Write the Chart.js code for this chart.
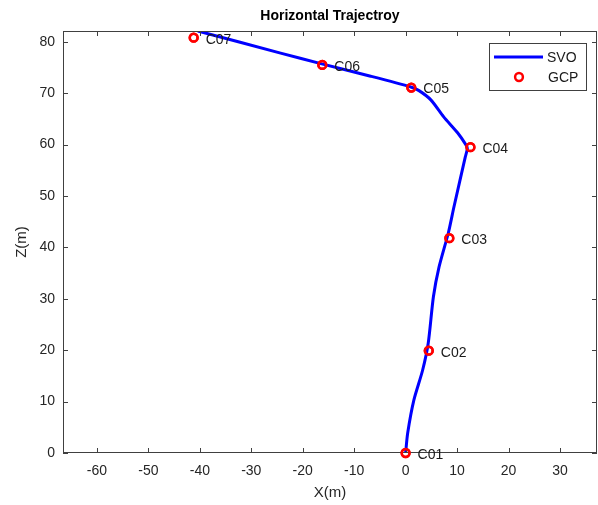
<!DOCTYPE html>
<html>
<head>
<meta charset="utf-8">
<script src="https://cdn.jsdelivr.net/npm/chart.js@4/dist/chart.umd.min.js"></script>
<style>
  html, body { margin: 0; padding: 0; background: #fff; }
  #wrap { width: 598px; height: 505px; }
</style>
</head>
<body>
<div id="wrap"><canvas id="chart" width="598" height="505"></canvas></div>
<script>
// ground control points
const gcpNames = ['C01', 'C02', 'C03', 'C04', 'C05', 'C06', 'C07'];
const gcpX = [0, 4.5, 8.5, 12.6, 1.1, -16.2, -41.2];
const gcpZ = [0, 19.9, 41.8, 59.5, 71.1, 75.5, 80.8];

// SVO trajectory
const svoX = [0, 0.4, 1.6, 3.3, 4.4, 5.4, 6.5, 8.3, 9.4, 11.6, 12.0, 11.7, 10.1, 7.4, 4.9, 2.6, 1.0, -6.8, -16.3, -24.3, -40.4];
const svoZ = [0, 3.9, 10.3, 16.1, 21.4, 30.4, 36.2, 42.8, 47.9, 57.6, 59.3, 60.0, 62.3, 65.4, 68.7, 70.5, 71.2, 73.3, 75.7, 77.8, 82.1];

const xTicks = [-60, -50, -40, -30, -20, -10, 0, 10, 20, 30];
const zTicks = [0, 10, 20, 30, 40, 50, 60, 70, 80];

const FONT = '"Liberation Sans", Arial, Helvetica, sans-serif';
const AXIS = '#404040';
const TEXT = '#262626';

// box, inward ticks, point labels and legend, matlab style
const matlabAxes = {
  id: 'matlabAxes',
  afterDatasetsDraw(chart) {
    const ctx = chart.ctx;
    const a = chart.chartArea;
    const xs = chart.scales.x, ys = chart.scales.y;
    const tl = 5;
    ctx.save();
    ctx.strokeStyle = AXIS;
    ctx.lineWidth = 1;
    ctx.strokeRect(Math.round(a.left) + 0.5, Math.round(a.top) + 0.5,
      Math.round(a.right - a.left) - 1, Math.round(a.bottom - a.top) - 1);
    ctx.beginPath();
    xTicks.forEach(v => {
      const px = Math.round(xs.getPixelForValue(v)) + 0.5;
      ctx.moveTo(px, a.bottom); ctx.lineTo(px, a.bottom - tl);
      ctx.moveTo(px, a.top); ctx.lineTo(px, a.top + tl);
    });
    zTicks.forEach(v => {
      const py = Math.round(ys.getPixelForValue(v)) + 0.5;
      ctx.moveTo(a.left, py); ctx.lineTo(a.left + tl, py);
      ctx.moveTo(a.right, py); ctx.lineTo(a.right - tl, py);
    });
    ctx.stroke();

    // markers on top of the frame (matlab does not clip them)
    const meta = chart.getDatasetMeta(0);
    ctx.strokeStyle = '#ff0000';
    ctx.lineWidth = 2.5;
    meta.data.forEach(pt => {
      ctx.beginPath();
      ctx.arc(pt.x, pt.y, 3.9, 0, Math.PI * 2);
      ctx.stroke();
    });

    // labels next to the GCP circles
    ctx.font = '14px ' + FONT;
    ctx.fillStyle = '#1a1a1a';
    ctx.textAlign = 'left';
    ctx.textBaseline = 'middle';
    meta.data.forEach((pt, i) => {
      ctx.fillText(gcpNames[i], pt.x + 12, pt.y + 2);
    });

    // legend box, upper right
    const lx = a.right - 108, ly = a.top + 12, lw = 97, lh = 47;
    ctx.fillStyle = '#fff';
    ctx.fillRect(lx, ly, lw, lh);
    ctx.strokeStyle = AXIS;
    ctx.lineWidth = 1;
    ctx.strokeRect(lx + 0.5, ly + 0.5, lw, lh);
    ctx.strokeStyle = '#0000ff';
    ctx.lineWidth = 3;
    ctx.beginPath();
    ctx.moveTo(lx + 5, ly + 14);
    ctx.lineTo(lx + 54, ly + 14);
    ctx.stroke();
    ctx.strokeStyle = '#ff0000';
    ctx.lineWidth = 2.5;
    ctx.beginPath();
    ctx.arc(lx + 30, ly + 34, 3.9, 0, Math.PI * 2);
    ctx.stroke();
    ctx.fillStyle = '#1a1a1a';
    ctx.fillText('SVO', lx + 58, ly + 15);
    ctx.fillText('GCP', lx + 59, ly + 35);
    ctx.restore();
  }
};

new Chart(document.getElementById('chart'), {
  type: 'scatter',
  data: {
    datasets: [
      {
        label: 'GCP',
        data: gcpX.map((x, i) => ({ x: x, y: gcpZ[i] })),
        pointRadius: 3.9,
        pointHoverRadius: 3.9,
        pointBorderWidth: 2.5,
        pointBorderColor: '#ff0000',
        pointBackgroundColor: 'rgba(0,0,0,0)',
        clip: false,
        showLine: false
      },
      {
        label: 'SVO',
        data: svoX.map((x, i) => ({ x: x, y: svoZ[i] })),
        showLine: true,
        borderColor: '#0000ff',
        borderWidth: 3,
        pointRadius: 0,
        tension: 0.25,
        fill: false
      }
    ]
  },
  options: {
    responsive: false,
    animation: false,
    layout: { autoPadding: false, padding: { left: 13, right: 1, top: 0, bottom: 3 } },
    plugins: {
      legend: { display: false },
      tooltip: { enabled: false },
      title: {
        display: true,
        text: 'Horizontal Trajectroy',
        fullSize: false,
        color: '#000',
        font: { family: FONT, size: 14, weight: 'bold', lineHeight: 1.2 },
        padding: { top: 8, bottom: 6.2 }
      }
    },
    scales: {
      x: {
        type: 'linear',
        min: -66.6,
        max: 37.2,
        afterBuildTicks: s => { s.ticks = xTicks.map(v => ({ value: v })); },
        afterFit: s => { s.height = 49; },
        grid: { display: false, drawTicks: false },
        border: { display: false },
        ticks: { color: TEXT, padding: 10, font: { family: FONT, size: 14 } },
        title: {
          display: true, text: 'X(m)', color: TEXT, padding: 0,
          font: { family: FONT, size: 15, lineHeight: 1.2 }
        }
      },
      y: {
        type: 'linear',
        min: 0,
        max: 82.1,
        afterBuildTicks: s => { s.ticks = zTicks.map(v => ({ value: v })); },
        afterFit: s => { s.width = 50; },
        grid: { display: false, drawTicks: false },
        border: { display: false },
        ticks: { color: TEXT, padding: 8, font: { family: FONT, size: 14 } },
        title: {
          display: true, text: 'Z(m)', color: TEXT, padding: 0,
          font: { family: FONT, size: 15, lineHeight: 1.2 }
        }
      }
    }
  },
  plugins: [matlabAxes]
});
</script>
</body>
</html>
